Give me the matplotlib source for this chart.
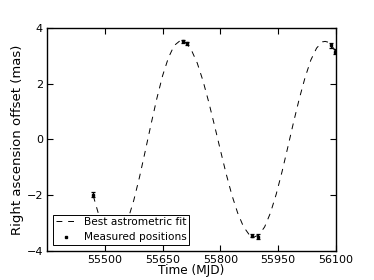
import numpy as np
import matplotlib
matplotlib.use("Agg")
import matplotlib.pyplot as plt

# best fit curve, sampled off the figure (MJD, mas)
fit_t = [55470, 55485, 55500, 55515, 55530, 55545, 55560, 55575, 55590, 55605,
         55620, 55635, 55650, 55665, 55680, 55695, 55698, 55710, 55725, 55740,
         55755, 55770, 55785, 55800, 55815, 55830, 55845, 55860, 55875, 55888,
         55900, 55915, 55930, 55945, 55960, 55975, 55990, 56005, 56020, 56035,
         56050, 56065, 56072, 56080, 56095, 56100]
fit_ra = [-2.03, -2.75, -3.27, -3.55, -3.58, -3.35, -2.87, -2.19, -1.35, -0.41,
          0.55, 1.47, 2.29, 2.93, 3.37, 3.54, 3.55, 3.48, 3.20, 2.74,
          2.10, 1.33, 0.49, -0.38, -1.23, -2.00, -2.64, -3.13, -3.42, -3.50,
          -3.43, -3.14, -2.64, -1.97, -1.17, -0.29, 0.61, 1.46, 2.22, 2.85,
          3.28, 3.50, 3.52, 3.49, 3.26, 3.13]

# measured positions
obs_t = [55469, 55702, 55714, 55882, 55899, 56087, 56098]
obs_ra = [-1.98, 3.52, 3.45, -3.45, -3.50, 3.38, 3.15]
obs_err = [0.09, 0.06, 0.06, 0.06, 0.09, 0.09, 0.09]

xticks = [55500, 55650, 55800, 55950, 56100]
yticks = [-4, -2, 0, 2, 4]

fig = plt.figure(figsize=(3.74, 2.80), dpi=100)
ax = fig.add_axes([0.126, 0.104, 0.772, 0.796])

ax.plot(fit_t, fit_ra, color="black", lw=0.7, linestyle=(0, (6, 6)),
        label="Best astrometric fit")
ax.errorbar(obs_t, obs_ra, yerr=obs_err, fmt="none", ecolor="black",
            elinewidth=0.9, capsize=1.5, capthick=0.9)
ax.plot(obs_t, obs_ra, "s", color="black", ms=1.8, label="Measured positions")

ax.set_xlim(55350, 56100)
ax.set_ylim(-4, 4)
ax.set_xticks(xticks)
ax.set_yticks(yticks)
ax.tick_params(direction="in", length=4, width=0.8, labelsize=8,
               top=True, right=True, pad=3)
for s in ax.spines.values():
    s.set_linewidth(1.0)

ax.set_xlabel("Time (MJD)", fontsize=8.7, labelpad=-1)
ax.set_ylabel("Right ascension offset (mas)", fontsize=9.5, labelpad=2)

leg = ax.legend(loc="lower left", fontsize=7.6, numpoints=1, fancybox=False,
                framealpha=1, edgecolor="black", borderaxespad=0.55,
                handlelength=2.0, borderpad=0.25, labelspacing=0.5,
                handletextpad=0.7)
leg.get_frame().set_linewidth(0.7)

fig.savefig("out.png", dpi=100)
